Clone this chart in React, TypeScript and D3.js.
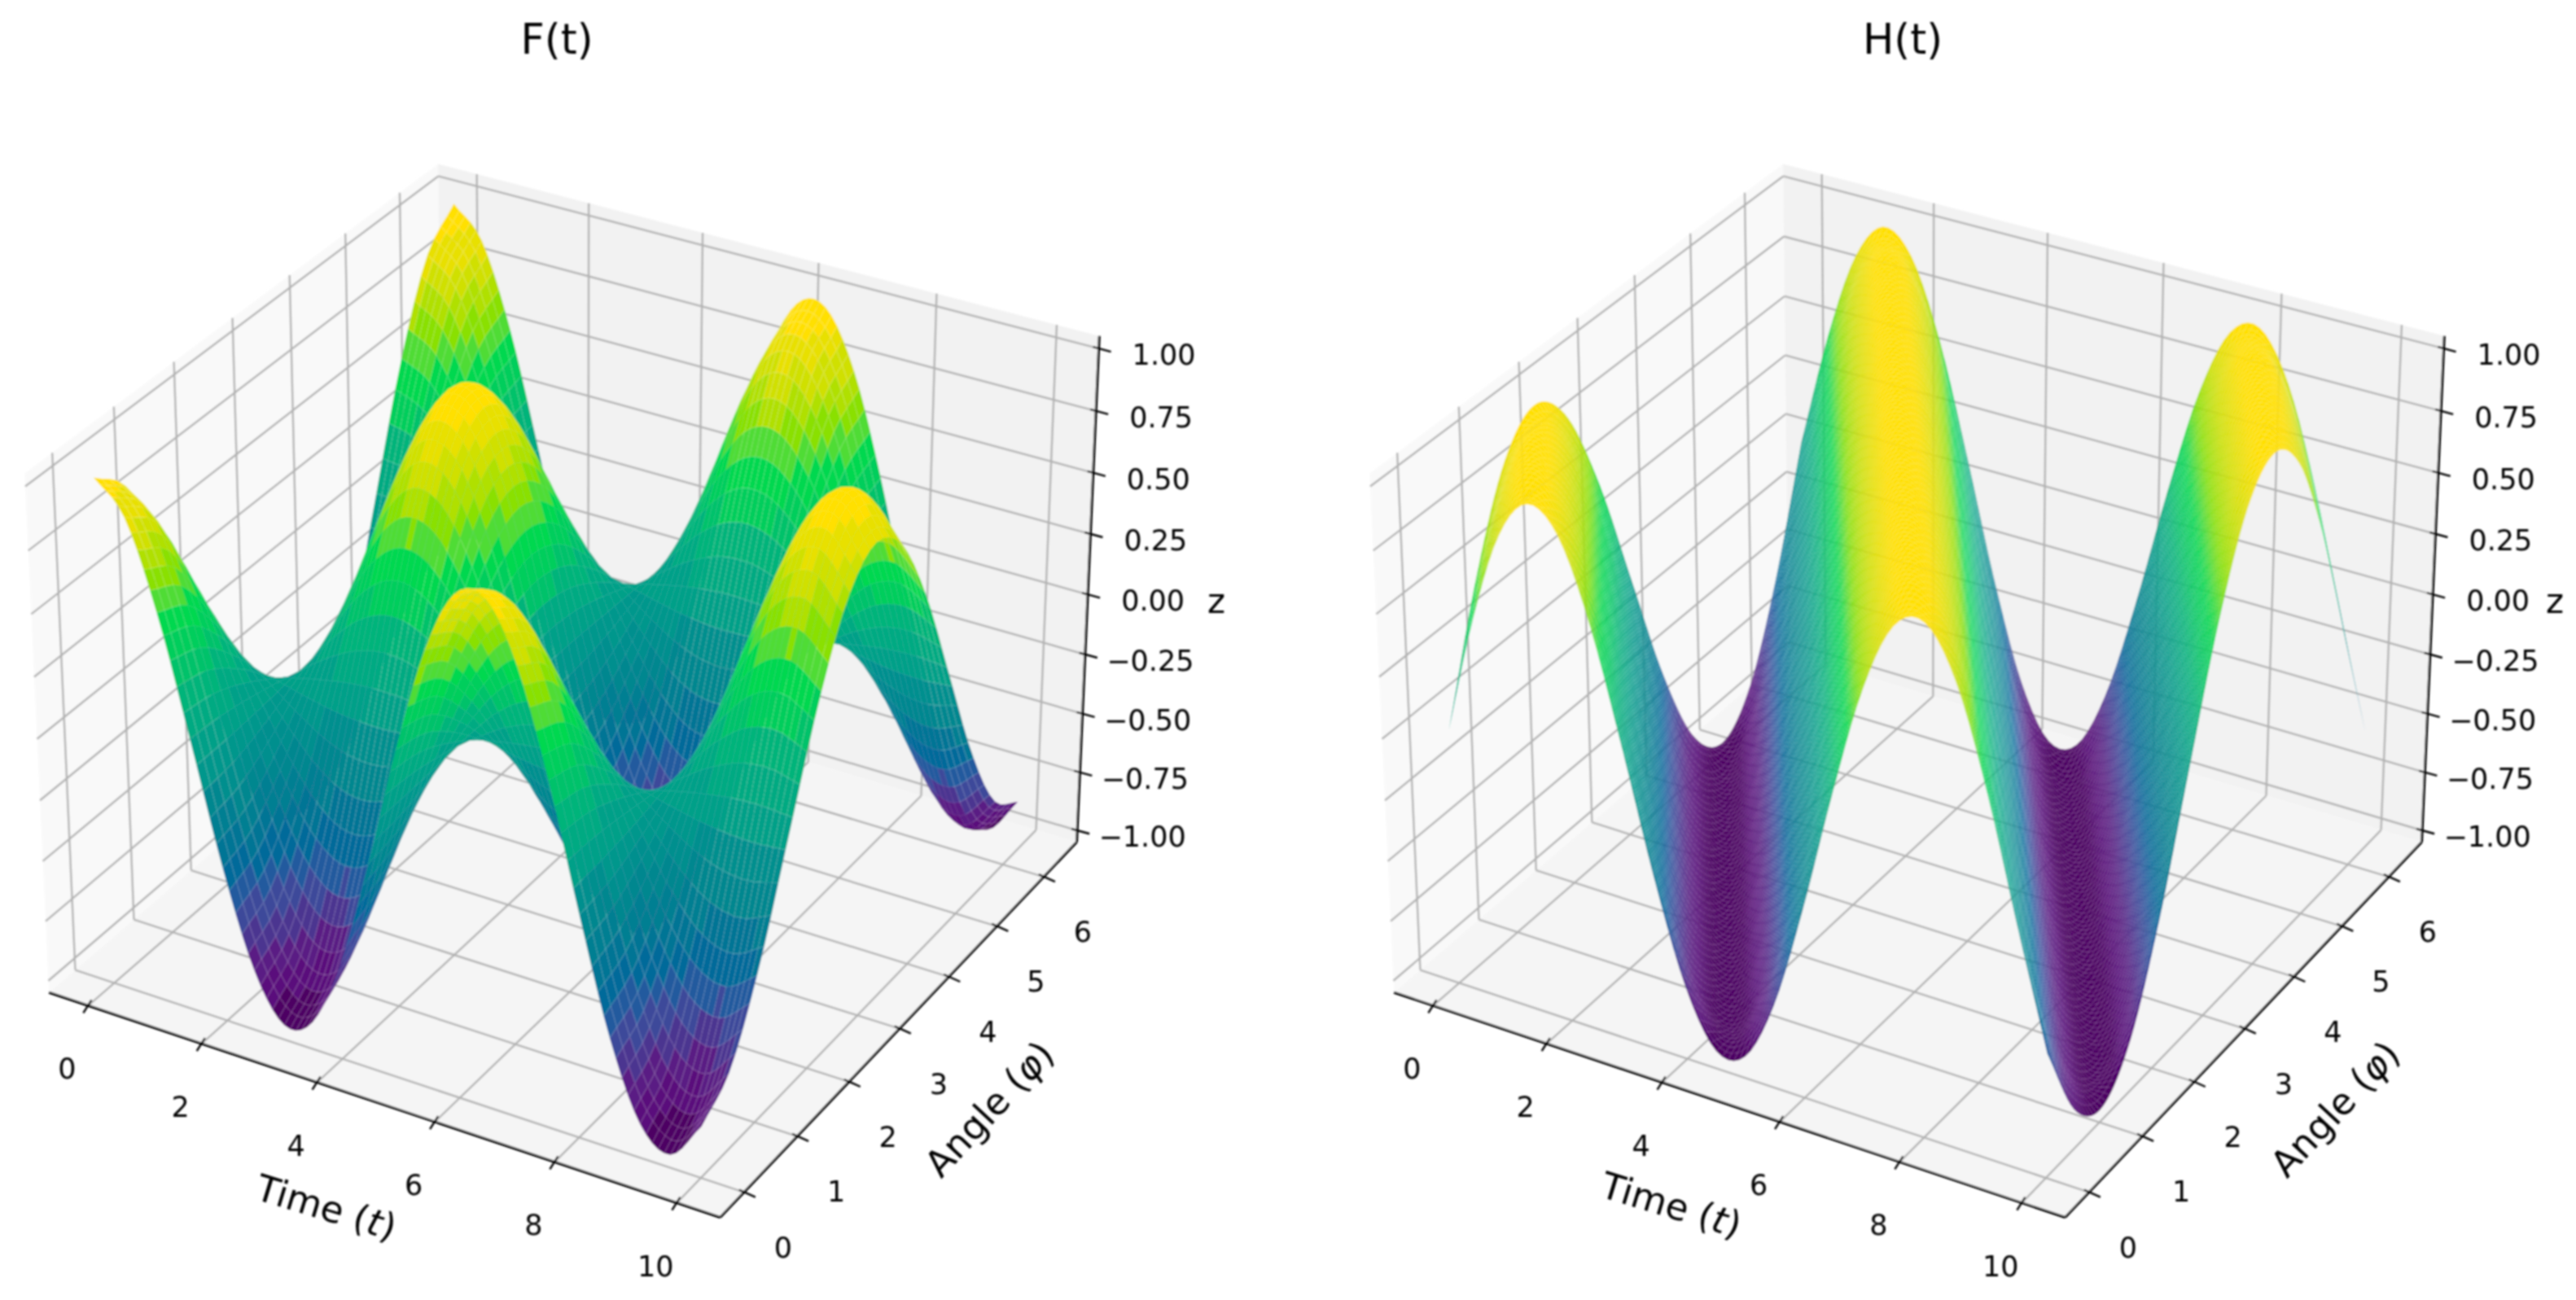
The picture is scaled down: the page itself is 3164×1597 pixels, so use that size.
import { useEffect, useRef } from "react";
import * as d3 from "d3";

const WIDTH = 3164;
const HEIGHT = 1597;

const T_SAMPLES = [0, 0.5, 1, 1.5, 2, 2.5, 3, 3.5, 4, 4.5, 5, 5.5, 6, 6.5, 7, 7.5, 8, 8.5, 9, 9.5, 10];
const PHI_SAMPLES = [0, 0.524, 1.047, 1.571, 2.094, 2.618, 3.142, 3.665, 4.189, 4.712, 5.236, 5.76, 6.283];

const F_VALUES = [
  [1.0, 0.878, 0.54, 0.071, -0.416, -0.801, -0.99, -0.936, -0.654, -0.211, 0.284, 0.709, 0.96, 0.977, 0.754, 0.347, -0.146, -0.602, -0.911, -0.997, -0.839],
  [0.866, 0.76, 0.468, 0.061, -0.36, -0.694, -0.857, -0.811, -0.566, -0.183, 0.246, 0.614, 0.831, 0.846, 0.653, 0.301, -0.126, -0.521, -0.789, -0.863, -0.727],
  [0.5, 0.439, 0.27, 0.035, -0.208, -0.401, -0.495, -0.468, -0.327, -0.105, 0.142, 0.354, 0.48, 0.488, 0.377, 0.173, -0.073, -0.301, -0.456, -0.499, -0.42],
  [0, 0, 0, 0, 0, 0, 0, 0, 0, 0, 0, 0, 0, 0, 0, 0, 0, 0, 0, 0, 0],
  [-0.5, -0.439, -0.27, -0.035, 0.208, 0.401, 0.495, 0.468, 0.327, 0.105, -0.142, -0.354, -0.48, -0.488, -0.377, -0.173, 0.073, 0.301, 0.456, 0.499, 0.42],
  [-0.866, -0.76, -0.468, -0.061, 0.36, 0.694, 0.857, 0.811, 0.566, 0.183, -0.246, -0.614, -0.831, -0.846, -0.653, -0.301, 0.126, 0.521, 0.789, 0.863, 0.727],
  [-1.0, -0.878, -0.54, -0.071, 0.416, 0.801, 0.99, 0.936, 0.654, 0.211, -0.284, -0.709, -0.96, -0.977, -0.754, -0.347, 0.146, 0.602, 0.911, 0.997, 0.839],
  [-0.866, -0.76, -0.468, -0.061, 0.36, 0.694, 0.857, 0.811, 0.566, 0.183, -0.246, -0.614, -0.831, -0.846, -0.653, -0.301, 0.126, 0.521, 0.789, 0.863, 0.727],
  [-0.5, -0.439, -0.27, -0.035, 0.208, 0.401, 0.495, 0.468, 0.327, 0.105, -0.142, -0.354, -0.48, -0.488, -0.377, -0.173, 0.073, 0.301, 0.456, 0.499, 0.42],
  [0, 0, 0, 0, 0, 0, 0, 0, 0, 0, 0, 0, 0, 0, 0, 0, 0, 0, 0, 0, 0],
  [0.5, 0.439, 0.27, 0.035, -0.208, -0.401, -0.495, -0.468, -0.327, -0.105, 0.142, 0.354, 0.48, 0.488, 0.377, 0.173, -0.073, -0.301, -0.456, -0.499, -0.42],
  [0.866, 0.76, 0.468, 0.061, -0.36, -0.694, -0.857, -0.811, -0.566, -0.183, 0.246, 0.614, 0.831, 0.846, 0.653, 0.301, -0.126, -0.521, -0.789, -0.863, -0.727],
  [1.0, 0.878, 0.54, 0.071, -0.416, -0.801, -0.99, -0.936, -0.654, -0.211, 0.284, 0.709, 0.96, 0.977, 0.754, 0.347, -0.146, -0.602, -0.911, -0.997, -0.839],
];

const H_VALUES = [
  [0, 0.479, 0.841, 0.997, 0.909, 0.598, 0.141, -0.351, -0.757, -0.978, -0.959, -0.706, -0.279, 0.215, 0.657, 0.938, 0.989, 0.798, 0.412, -0.075, -0.544],
  [0.5, 0.854, 0.998, 0.899, 0.579, 0.117, -0.373, -0.772, -0.983, -0.952, -0.688, -0.257, 0.238, 0.674, 0.946, 0.985, 0.783, 0.39, -0.099, -0.564, -0.891],
  [0.866, 1.0, 0.889, 0.56, 0.095, -0.395, -0.786, -0.987, -0.945, -0.672, -0.234, 0.261, 0.691, 0.954, 0.982, 0.77, 0.369, -0.122, -0.583, -0.901, -0.999],
  [1.0, 0.878, 0.54, 0.071, -0.416, -0.801, -0.99, -0.936, -0.654, -0.211, 0.284, 0.709, 0.96, 0.977, 0.754, 0.347, -0.146, -0.602, -0.911, -0.997, -0.839],
  [0.866, 0.52, 0.047, -0.437, -0.815, -0.993, -0.928, -0.635, -0.187, 0.306, 0.726, 0.967, 0.971, 0.738, 0.324, -0.168, -0.621, -0.92, -0.995, -0.825, -0.455],
  [0.5, 0.024, -0.458, -0.828, -0.995, -0.918, -0.617, -0.164, 0.329, 0.742, 0.972, 0.965, 0.722, 0.302, -0.192, -0.639, -0.929, -0.992, -0.813, -0.434, 0.051],
  [0, -0.479, -0.841, -0.997, -0.909, -0.598, -0.141, 0.351, 0.757, 0.978, 0.959, 0.706, 0.279, -0.215, -0.657, -0.938, -0.989, -0.798, -0.412, 0.075, 0.544],
  [-0.5, -0.854, -0.998, -0.899, -0.579, -0.117, 0.373, 0.772, 0.983, 0.952, 0.688, 0.257, -0.238, -0.674, -0.946, -0.985, -0.783, -0.39, 0.099, 0.564, 0.891],
  [-0.866, -1.0, -0.889, -0.56, -0.095, 0.395, 0.786, 0.987, 0.945, 0.672, 0.234, -0.261, -0.691, -0.954, -0.982, -0.77, -0.369, 0.122, 0.583, 0.901, 0.999],
  [-1.0, -0.878, -0.54, -0.071, 0.416, 0.801, 0.99, 0.936, 0.654, 0.211, -0.284, -0.709, -0.96, -0.977, -0.754, -0.347, 0.146, 0.602, 0.911, 0.997, 0.839],
  [-0.866, -0.52, -0.047, 0.437, 0.815, 0.993, 0.928, 0.635, 0.187, -0.306, -0.726, -0.967, -0.971, -0.738, -0.324, 0.168, 0.621, 0.92, 0.995, 0.825, 0.455],
  [-0.5, -0.024, 0.458, 0.828, 0.995, 0.918, 0.617, 0.164, -0.329, -0.742, -0.972, -0.965, -0.722, -0.302, 0.192, 0.639, 0.929, 0.992, 0.813, 0.434, -0.051],
  [0, 0.479, 0.841, 0.997, 0.909, 0.598, 0.141, -0.351, -0.757, -0.978, -0.959, -0.706, -0.279, 0.215, 0.657, 0.938, 0.989, 0.798, 0.412, -0.075, -0.544],
];

const X_TICKS = [0, 2, 4, 6, 8, 10];
const Y_TICKS = [0, 1, 2, 3, 4, 5, 6];
const Z_TICKS = [-1, -0.75, -0.5, -0.25, 0, 0.25, 0.5, 0.75, 1];

// viridis as it looks in the (oversaturated) screenshot, one colour per band
const COLOR_VALUES = ["#4d0064", "#5a0e7c", "#5a1f84", "#4c3490", "#3c4a9a", "#235a9e", "#006a9a", "#007595", "#007f92", "#00878f", "#008f8e", "#00978c", "#00a088", "#00aa82", "#00b47a", "#00c26a", "#00ce5c", "#00d850", "#50dc34", "#8ae000", "#b0e000", "#d0e000", "#e8e000", "#ffe000"];
const BAND_COUNT = COLOR_VALUES.length;
const COLOR_STOPS = d3.range(BAND_COUNT).map((i) => (i + 0.5) / BAND_COUNT);

// matplotlib's default mplot3d camera (elev 30, azim -60, dist 10)
const BOX = [1.1905, 1.1905, 0.8929];
const U = [0.866, 0.5, 0];
const V = [-0.25, 0.433, 0.866];
const W = [0.433, -0.75, 0.5];
const DIST = 10;
const SCALE_X = 7933;
const SCALE_Y = 8138;
const ORIGIN_Y = 817.4;

const xFrac = d3.scaleLinear().domain([-0.7, 10.7]).range([0, 1]);
const yFrac = d3.scaleLinear().domain([-0.44, 6.72]).range([0, 1]);
const zFrac = d3.scaleLinear().domain([-1.05, 1.05]).range([0, 1]);
const colorScale = d3.scaleLinear<string>().domain(COLOR_STOPS).range(COLOR_VALUES).clamp(true);

const makeProject = (originX: number) => (fx: number, fy: number, fz: number) => {
  const r = [(fx - 0.5) * BOX[0], (fy - 0.5) * BOX[1], (fz - 0.5) * BOX[2]];
  const dot = (a: number[]) => a[0] * r[0] + a[1] * r[1] + a[2] * r[2];
  const d = DIST - dot(W);
  return { x: originX + (SCALE_X * dot(U)) / d, y: ORIGIN_Y - (SCALE_Y * dot(V)) / d, d };
};

// Catmull-Rom through a row of samples, s is a fractional index
function spline(row: number[], s: number) {
  const n = row.length;
  const i = Math.min(Math.floor(s), n - 2);
  const f = s - i;
  const p1 = row[i];
  const p2 = row[i + 1];
  const p0 = i > 0 ? row[i - 1] : 2 * p1 - p2;
  const p3 = i + 2 < n ? row[i + 2] : 2 * p2 - p1;
  return (
    0.5 *
    (2 * p1 +
      (p2 - p0) * f +
      (2 * p0 - 5 * p1 + 4 * p2 - p3) * f * f +
      (3 * p1 - p0 - 3 * p2 + p3) * f * f * f)
  );
}

function resample(values: number[][], nt: number, np: number) {
  const tIdx = d3.scaleLinear().domain([0, nt]).range([0, T_SAMPLES.length - 1]);
  const pIdx = d3.scaleLinear().domain([0, np]).range([0, PHI_SAMPLES.length - 1]);
  const byRow = values.map((row) => d3.range(nt + 1).map((i) => spline(row, tIdx(i))));
  return d3.range(np + 1).map((j) => d3.range(nt + 1).map((i) => spline(byRow.map((r) => r[i]), pIdx(j))));
}

type Panel = {
  originX: number;
  title: string;
  titleX: number;
  values: number[][];
  facetsT: number;
  facetsPhi: number;
  bands: number;
  seam: number;
  timeLabel: [number, number];
  angleLabel: [number, number];
  zLabel: [number, number];
};

const PANELS: Panel[] = [
  { originX: 703, title: "F(t)", titleX: 684, values: F_VALUES, facetsT: 100, facetsPhi: 50, bands: BAND_COUNT, seam: 0.12, timeLabel: [401, 1483], angleLabel: [1215, 1362], zLabel: [1494, 738] },
  { originX: 2355, title: "H(t)", titleX: 2337, values: H_VALUES, facetsT: 100, facetsPhi: 100, bands: 0, seam: 0.05, timeLabel: [2053, 1480], angleLabel: [2868, 1362], zLabel: [3138, 738] },
];

function drawPanel(root: d3.Selection<SVGGElement, unknown, null, undefined>, p: Panel) {
  const project = makeProject(p.originX);
  const g = root.append("g");
  const poly = d3.line<{ x: number; y: number }>().x((d) => d.x).y((d) => d.y);
  const pane = (pts: number[][], fill: string) =>
    g.append("path").attr("d", poly(pts.map((c) => project(c[0], c[1], c[2]))) + "Z").attr("fill", fill);
  const seg = (a: { x: number; y: number }, b: { x: number; y: number }, color: string, w: number) =>
    g.append("line").attr("x1", a.x).attr("y1", a.y).attr("x2", b.x).attr("y2", b.y)
      .attr("stroke", color).attr("stroke-width", w);

  // ----- Panes -----
  pane([[0, 0, 0], [0, 1, 0], [0, 1, 1], [0, 0, 1]], "#f9f9f9");
  pane([[0, 1, 0], [1, 1, 0], [1, 1, 1], [0, 1, 1]], "#f2f2f2");
  pane([[0, 0, 0], [1, 0, 0], [1, 1, 0], [0, 1, 0]], "#f5f5f5");

  // ----- Grid -----
  const gridColor = "#b2b2b2";
  X_TICKS.forEach((t) => {
    const f = xFrac(t);
    seg(project(f, 0, 0), project(f, 1, 0), gridColor, 2.4);
    seg(project(f, 1, 0), project(f, 1, 1), gridColor, 2.4);
  });
  Y_TICKS.forEach((v) => {
    const f = yFrac(v);
    seg(project(1, f, 0), project(0, f, 0), gridColor, 2.4);
    seg(project(0, f, 0), project(0, f, 1), gridColor, 2.4);
  });
  Z_TICKS.forEach((v) => {
    const f = zFrac(v);
    seg(project(0, 0, f), project(0, 1, f), gridColor, 2.4);
    seg(project(0, 1, f), project(1, 1, f), gridColor, 2.4);
  });

  // ----- Axis lines, ticks, tick labels -----
  const axisColor = "#000";
  seg(project(0, 0, 0), project(1, 0, 0), axisColor, 3);
  seg(project(1, 0, 0), project(1, 1, 0), axisColor, 3);
  seg(project(1, 1, 0), project(1, 1, 1), axisColor, 3);

  const tickLabel = (x: number, y: number, text: string) =>
    g.append("text").attr("x", x).attr("y", y).attr("text-anchor", "middle")
      .attr("dominant-baseline", "central").attr("font-size", 35).attr("fill", "#000").text(text);

  X_TICKS.forEach((t) => {
    const a = project(xFrac(t), 0, 0);
    seg({ x: a.x + 4, y: a.y - 7 }, { x: a.x - 6, y: a.y + 9 }, axisColor, 2.4);
    tickLabel(a.x - 26, a.y + 78, String(t));
  });
  Y_TICKS.forEach((v) => {
    const a = project(1, yFrac(v), 0);
    seg({ x: a.x - 6, y: a.y - 3 }, { x: a.x + 14, y: a.y + 6 }, axisColor, 2.4);
    tickLabel(a.x + 48, a.y + 68, String(v));
  });
  const zFormat = d3.format(".2f");
  Z_TICKS.forEach((v) => {
    const a = project(1, 1, zFrac(v));
    seg({ x: a.x - 7, y: a.y - 2 }, { x: a.x + 15, y: a.y + 4 }, axisColor, 2.4);
    tickLabel(a.x + 80, a.y + 8, zFormat(v));
  });

  // ----- Surface, painted back to front -----
  const nt = p.facetsT;
  const np = p.facetsPhi;
  const grid = resample(p.values, nt, np);
  const fx = d3.scaleLinear().domain([0, nt]).range([xFrac(0), xFrac(10)]);
  const fy = d3.scaleLinear().domain([0, np]).range([yFrac(0), yFrac(6.283)]);
  const facets: { d: string; depth: number; color: string }[] = [];
  for (let j = 0; j < np; j++) {
    for (let i = 0; i < nt; i++) {
      const corners = [[i, j], [i + 1, j], [i + 1, j + 1], [i, j + 1]];
      const pts = corners.map(([a, b]) => project(fx(a), fy(b), zFrac(grid[b][a])));
      const z = d3.mean(corners, ([a, b]) => grid[b][a]) as number;
      let c = (z + 1) / 2;
      if (p.bands) c = (Math.floor(Math.min(c, 0.999) * p.bands) + 0.5) / p.bands;
      facets.push({
        d: poly(pts) + "Z",
        depth: d3.mean(pts, (q) => q.d) as number,
        color: colorScale(c),
      });
    }
  }
  facets.sort((a, b) => d3.descending(a.depth, b.depth));
  g.append("g").attr("stroke", "#fff").attr("stroke-opacity", p.seam).attr("stroke-width", 0.7)
    .selectAll("path").data(facets).enter().append("path")
    .attr("d", (d) => d.d).attr("fill", (d) => d.color);

  // ----- Titles and axis labels -----
  g.append("text").attr("x", p.titleX).attr("y", 48).attr("text-anchor", "middle")
    .attr("dominant-baseline", "central").attr("font-size", 51).attr("fill", "#000").text(p.title);

  const rotated = (pos: [number, number], angle: number, word: string, sym: string) => {
    const t = g.append("text").attr("text-anchor", "middle").attr("dominant-baseline", "central")
      .attr("font-size", 45).attr("fill", "#000")
      .attr("transform", `translate(${pos[0]},${pos[1]}) rotate(${angle})`);
    t.append("tspan").text(word + " (");
    t.append("tspan").attr("font-style", "italic").text(sym);
    t.append("tspan").text(")");
  };
  rotated(p.timeLabel, 17, "Time", "t");
  rotated(p.angleLabel, -47, "Angle", "φ");
  g.append("text").attr("x", p.zLabel[0]).attr("y", p.zLabel[1]).attr("text-anchor", "middle")
    .attr("dominant-baseline", "central").attr("font-size", 42)
    .attr("fill", "#000").text("z");
}

export default function App() {
  const svgRef = useRef<SVGSVGElement>(null);

  useEffect(() => {
    const svg = d3.select(svgRef.current);
    svg.selectAll("*").remove();
    svg.append("defs").append("filter").attr("id", "soft")
      .attr("filterUnits", "userSpaceOnUse")
      .attr("x", 0).attr("y", 0).attr("width", WIDTH).attr("height", HEIGHT)
      .append("feGaussianBlur").attr("stdDeviation", 0.8);
    const root = svg.append("g").attr("filter", "url(#soft)") as any;
    PANELS.forEach((p) => drawPanel(root, p));
  }, []);

  return (
    <svg
      ref={svgRef}
      width={WIDTH}
      height={HEIGHT}
      style={{ position: "absolute", left: 0, top: 0, background: "#fff", fontFamily: "'DejaVu Sans'" }}
    />
  );
}
